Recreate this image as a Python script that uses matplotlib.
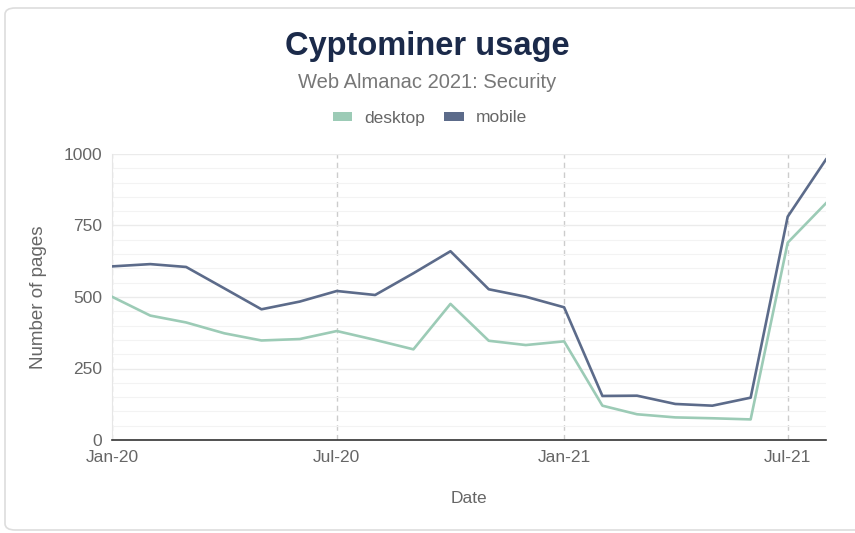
import matplotlib
matplotlib.use('agg')
from matplotlib import pyplot as plt
from matplotlib.patches import FancyBboxPatch, Patch
from matplotlib.ticker import MultipleLocator
import numpy as np

months = ['2020-01', '2020-02', '2020-03', '2020-04', '2020-05', '2020-06',
          '2020-07', '2020-08', '2020-09', '2020-10', '2020-11', '2020-12',
          '2021-01', '2021-02', '2021-03', '2021-04', '2021-05', '2021-06',
          '2021-07', '2021-08']
desktop = [501, 435, 411, 373, 348, 353, 381, 350, 317, 476, 347, 332,
           345, 120, 90, 79, 76, 72, 690, 828]
mobile = [607, 615, 605, 530, 457, 484, 521, 507, 583, 660, 527, 501,
          464, 154, 155, 126, 120, 148, 781, 981]
tick_months = ['2020-01', '2020-07', '2021-01', '2021-07']
tick_labels = ['Jan-20', 'Jul-20', 'Jan-21', 'Jul-21']

plt.rcParams['font.family'] = ['Liberation Sans', 'DejaVu Sans']

dates = np.array(months, dtype='datetime64[M]').astype('datetime64[D]')
ticks = np.array(tick_months, dtype='datetime64[M]').astype('datetime64[D]')

fig = plt.figure(figsize=(8.55, 5.33), dpi=100)

# card background, behind the axes
card = FancyBboxPatch((5 / 855, 3 / 533), 870 / 855, 522 / 533,
                      boxstyle='round,pad=0,rounding_size=0.012',
                      transform=fig.transFigure, facecolor='white',
                      edgecolor='#dddddd', linewidth=1.2, clip_on=False, zorder=-5)
fig.patches.append(card)

ax = fig.add_axes([112 / 855, (533 - 440) / 533, (826 - 112) / 855, 286 / 533])
ax.set_zorder(2)
ax.set_facecolor('none')

ax.plot(dates, mobile, color='#5c6b8a', linewidth=1.9, zorder=3)
ax.plot(dates, desktop, color='#9ccbb6', linewidth=1.9, zorder=3)

ax.set_ylim(0, 1000)
ax.set_xlim(dates[0], dates[-1])
ax.yaxis.set_major_locator(MultipleLocator(250))
ax.yaxis.set_minor_locator(MultipleLocator(50))
ax.set_xticks(ticks)
ax.set_xticklabels(tick_labels)

ax.grid(axis='y', which='major', color='#ebebeb', linewidth=1)
ax.grid(axis='y', which='minor', color='#f3f3f3', linewidth=0.8)
ax.grid(axis='x', which='major', color='#cccccc', linewidth=1, linestyle=(0, (4, 3)))
ax.set_axisbelow(True)

for side in ['top', 'right']:
    ax.spines[side].set_visible(False)
ax.spines['left'].set_color('#e6e6e6')
ax.spines['bottom'].set_color('#333333')
ax.spines['bottom'].set_linewidth(1.2)

ax.tick_params(axis='both', which='both', length=0, colors='#666666', labelsize=12.5)
ax.tick_params(axis='y', pad=7)
ax.tick_params(axis='x', pad=7)

ax.set_ylabel('Number of pages', color='#666666', fontsize=13.5, labelpad=12)
ax.set_xlabel('Date', color='#666666', fontsize=12.5, labelpad=19)

fig.text(0.5, 1 - 47 / 533, 'Cyptominer usage', ha='center', va='center',
         fontsize=23.5, fontweight='bold', color='#1b2a4a')
fig.text(0.5, 1 - 82 / 533, 'Web Almanac 2021: Security', ha='center', va='center',
         fontsize=14.5, color='#777777')

handles = [Patch(facecolor='#9ccbb6', label='desktop'),
           Patch(facecolor='#5c6b8a', label='mobile')]
fig.legend(handles=handles, loc='center', bbox_to_anchor=(0.503, 1 - 118 / 533),
           ncol=2, frameon=False, fontsize=12.5, handlelength=1.1,
           handleheight=0.45, handletextpad=0.7, columnspacing=1.1,
           labelcolor='#666666')

plt.savefig('out.png', dpi=100)
